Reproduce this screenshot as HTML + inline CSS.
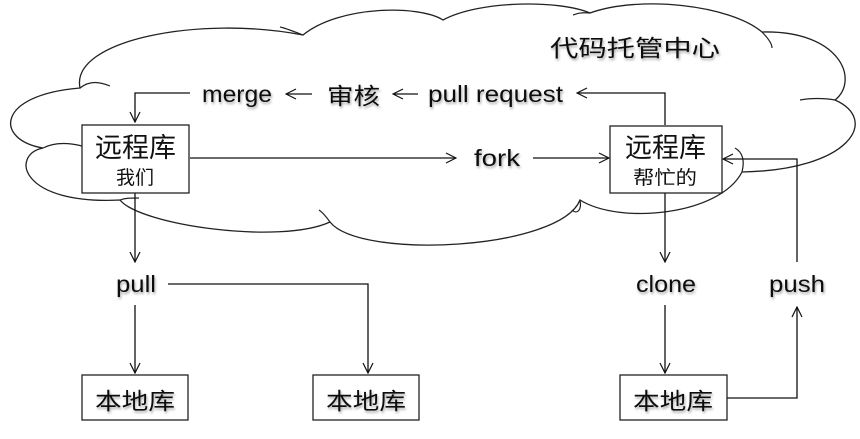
<!DOCTYPE html>
<html><head><meta charset="utf-8"><style>
html,body{margin:0;padding:0;background:#fff;width:860px;height:439px;overflow:hidden}
text{font-family:"Liberation Sans","Noto Sans CJK SC",sans-serif;fill:#111}
.t{font-size:23px;filter:url(#sh)}
</style></head><body>
<svg width="860" height="439" viewBox="0 0 860 439" xmlns="http://www.w3.org/2000/svg">
<defs>
<filter id="sh" x="-10%" y="-30%" width="120%" height="160%"><feDropShadow dx="1" dy="2" stdDeviation="1.2" flood-color="#000" flood-opacity="0.35"/></filter>
<marker id="a" viewBox="0 0 12 12" refX="11" refY="6" markerWidth="12" markerHeight="12" markerUnits="userSpaceOnUse" orient="auto"><path d="M1,1 L11,6 L1,11" fill="none" stroke="#111" stroke-width="1.2"/></marker>
</defs>
<path d="M80,88 C70,40 200,15 303,35 C340,5 420,5 443,20 C480,0 560,0 590,13 C640,-5 730,5 762,32 C840,30 860,80 835,100 C880,120 850,170 742,172 C720,215 620,225 580,200 C560,250 360,260 330,222 C280,245 140,225 120,200 C20,205 10,155 43,148 C-5,140 -5,95 80,88 Z" fill="#fff" stroke="#222" stroke-width="1.3"/>
<g stroke="#222" stroke-width="1.2" fill="none">
<path d="M80,88 C90,80 100,82 110,86"/>
<path d="M43,148 C55,142 70,143 82,146"/>
<path d="M303,35 C290,30 285,28 280,27"/>
<path d="M590,13 C580,12 576,14 573,15"/>
<path d="M762,32 C770,40 772,45 772,48"/>
<path d="M835,100 C825,98 810,98 800,100"/>
<path d="M742,172 C745,160 742,152 735,148"/>
<path d="M580,200 C582,210 577,215 572,210"/>
<path d="M330,222 C325,215 322,212 319,210"/>
<path d="M120,200 C125,198 130,198 139,198"/>
</g>
<g stroke="#111" stroke-width="1.3" fill="none">
<path d="M190,93 H135 V122" marker-end="url(#a)"/>
<path d="M665,125 V93 H577" marker-end="url(#a)"/>
<path d="M190,158 H456" marker-end="url(#a)"/>
<path d="M533,158 H609" marker-end="url(#a)"/>
<path d="M135,193 V262" marker-end="url(#a)"/>
<path d="M135,305 V373" marker-end="url(#a)"/>
<path d="M168,284 H368 V373" marker-end="url(#a)"/>
<path d="M665,193 V262" marker-end="url(#a)"/>
<path d="M665,305 V373" marker-end="url(#a)"/>
<path d="M727,398 H797 V307" marker-end="url(#a)"/>
<path d="M797,262 V159 H723" marker-end="url(#a)"/>
<path d="M312,94 H286" marker-end="url(#a)"/>
<path d="M418,94 H393" marker-end="url(#a)"/>
</g>
<g fill="#fff" stroke="#222" stroke-width="1.3">
<rect x="82" y="125" width="107" height="68"/>
<rect x="610" y="126" width="112" height="67"/>
<rect x="82" y="375" width="106" height="45"/>
<rect x="313" y="375" width="106" height="45"/>
<rect x="620" y="375" width="107" height="45"/>
</g>
<g lengthAdjust="spacingAndGlyphs">
<text class="t" x="550" y="56" font-size="26" textLength="170" lengthAdjust="spacingAndGlyphs">代码托管中心</text>
<text class="t" x="202" y="102" textLength="70" lengthAdjust="spacingAndGlyphs">merge</text>
<text class="t" x="327" y="104" font-size="26" textLength="53" lengthAdjust="spacingAndGlyphs">审核</text>
<text class="t" x="428" y="102" textLength="135" lengthAdjust="spacingAndGlyphs">pull request</text>
<text class="t" x="474" y="166" textLength="46" lengthAdjust="spacingAndGlyphs">fork</text>
<text class="t" x="116" y="292" textLength="40" lengthAdjust="spacingAndGlyphs">pull</text>
<text class="t" x="636" y="292" textLength="60" lengthAdjust="spacingAndGlyphs">clone</text>
<text class="t" x="769" y="292" textLength="56" lengthAdjust="spacingAndGlyphs">push</text>
<text x="95" y="157" font-size="27" textLength="81" lengthAdjust="spacingAndGlyphs">远程库</text>
<text x="116" y="184" font-size="19" textLength="38" lengthAdjust="spacingAndGlyphs">我们</text>
<text x="625" y="157" font-size="27" textLength="81" lengthAdjust="spacingAndGlyphs">远程库</text>
<text x="633" y="184" font-size="19" textLength="64" lengthAdjust="spacingAndGlyphs">帮忙的</text>
<text class="t" x="95" y="409" font-size="27" textLength="80" lengthAdjust="spacingAndGlyphs">本地库</text>
<text class="t" x="326" y="409" font-size="27" textLength="80" lengthAdjust="spacingAndGlyphs">本地库</text>
<text class="t" x="633" y="409" font-size="27" textLength="80" lengthAdjust="spacingAndGlyphs">本地库</text>
</g>
</svg>
</body></html>
